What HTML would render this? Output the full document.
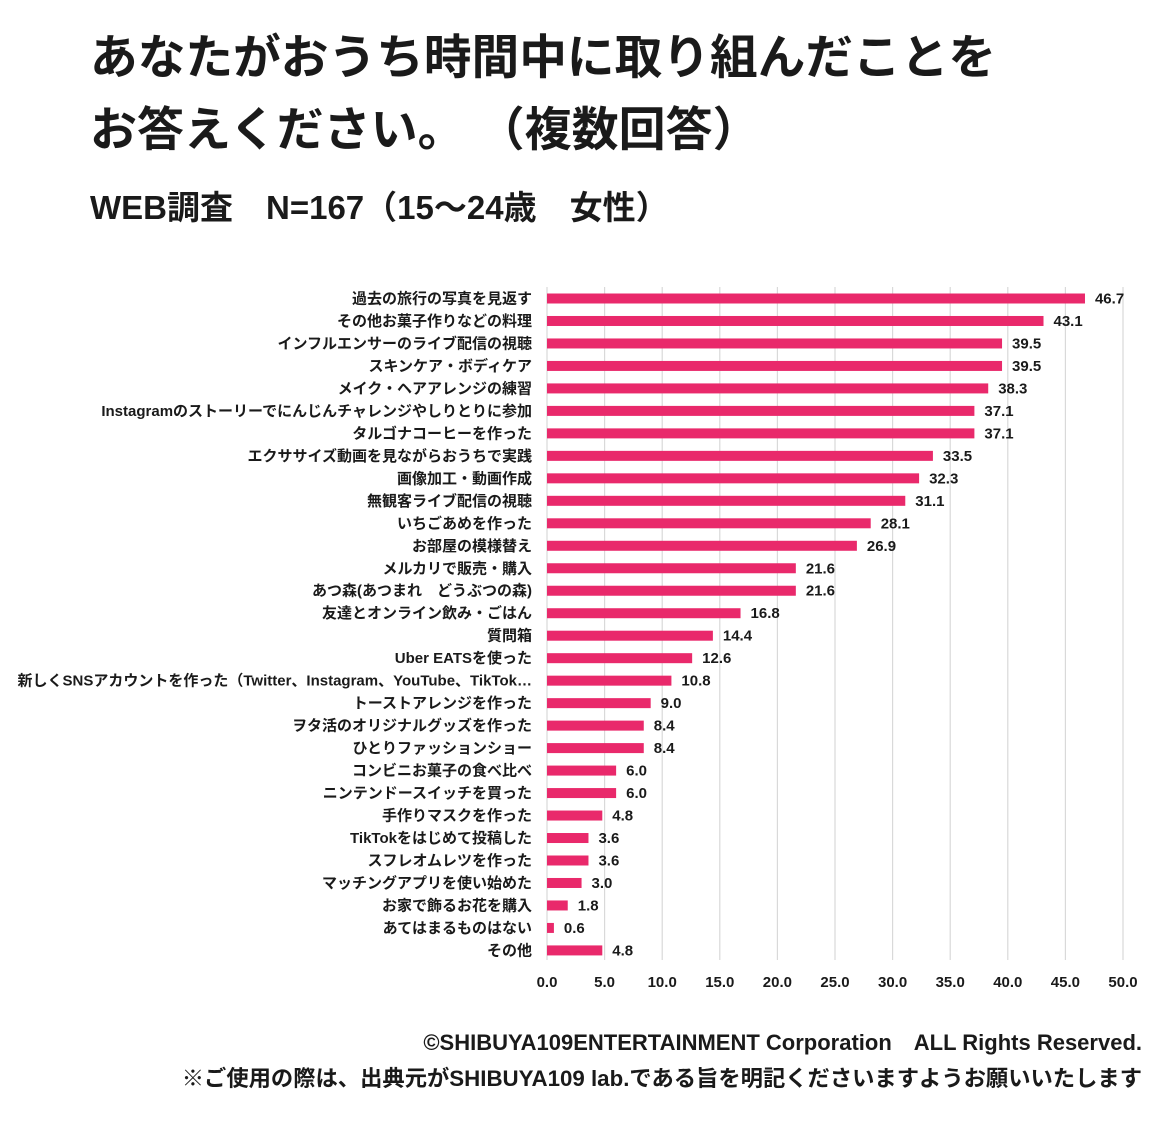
<!DOCTYPE html>
<html><head><meta charset="utf-8"><style>
body{margin:0;background:#fff;width:1160px;height:1133px;overflow:hidden;font-family:"Liberation Sans","Noto Sans CJK JP",sans-serif;color:#1a1a1a}
</style></head><body>
<svg width="1160" height="1133" xmlns="http://www.w3.org/2000/svg" font-family="Liberation Sans, Noto Sans CJK JP, sans-serif">
<text x="90" y="74" font-size="47.7" font-weight="bold" fill="#1a1a1a">あなたがおうち時間中に取り組んだことを</text>
<text x="90" y="146" font-size="47" font-weight="bold" fill="#1a1a1a" xml:space="preserve">お答えください。 （複数回答）</text>
<text x="90" y="219" font-size="33" font-weight="bold" fill="#1a1a1a">WEB調査　N=167（15～24歳　女性）</text>
<g id="grid" stroke="#d9d9d9" stroke-width="1.2"></g>
<g id="bars"></g>
<text x="1142" y="1050" font-size="22" font-weight="bold" text-anchor="end" fill="#1a1a1a">©SHIBUYA109ENTERTAINMENT Corporation　ALL Rights Reserved.</text>
<text x="1142" y="1086" font-size="22.3" font-weight="bold" text-anchor="end" fill="#1a1a1a">※ご使用の際は、出典元がSHIBUYA109 lab.である旨を明記くださいますようお願いいたします</text>
</svg>
<script>
const d=[["過去の旅行の写真を見返す",46.7],["その他お菓子作りなどの料理",43.1],["インフルエンサーのライブ配信の視聴",39.5],["スキンケア・ボディケア",39.5],["メイク・ヘアアレンジの練習",38.3],["Instagramのストーリーでにんじんチャレンジやしりとりに参加",37.1],["タルゴナコーヒーを作った",37.1],["エクササイズ動画を見ながらおうちで実践",33.5],["画像加工・動画作成",32.3],["無観客ライブ配信の視聴",31.1],["いちごあめを作った",28.1],["お部屋の模様替え",26.9],["メルカリで販売・購入",21.6],["あつ森(あつまれ　どうぶつの森)",21.6],["友達とオンライン飲み・ごはん",16.8],["質問箱",14.4],["Uber EATSを使った",12.6],["新しくSNSアカウントを作った（Twitter、Instagram、YouTube、TikTok…",10.8],["トーストアレンジを作った",9.0],["ヲタ活のオリジナルグッズを作った",8.4],["ひとりファッションショー",8.4],["コンビニお菓子の食べ比べ",6.0],["ニンテンドースイッチを買った",6.0],["手作りマスクを作った",4.8],["TikTokをはじめて投稿した",3.6],["スフレオムレツを作った",3.6],["マッチングアプリを使い始めた",3.0],["お家で飾るお花を購入",1.8],["あてはまるものはない",0.6],["その他",4.8]];
const ns="http://www.w3.org/2000/svg",x0=547,k=11.52,y0=298.5,dy=22.48;
const g=document.getElementById("grid"),b=document.getElementById("bars");
function el(p,t,a,txt){const e=document.createElementNS(ns,t);for(const q in a)e.setAttribute(q,a[q]);if(txt!=null)e.textContent=txt;p.appendChild(e);}
for(let i=0;i<=10;i++){const x=x0+i*5*k;el(g,"line",{x1:x,x2:x,y1:287,y2:960});el(b,"text",{x:x,y:987,"font-size":15,"font-weight":"bold","text-anchor":"middle",fill:"#1a1a1a"},(i*5).toFixed(1));}
d.forEach((r,i)=>{const y=y0+i*dy;el(b,"rect",{x:x0,y:y-5,width:r[1]*k,height:10,fill:"#e9296b"});
el(b,"text",{x:532,y:y+5,"font-size":15,"font-weight":"bold","text-anchor":"end",fill:"#1a1a1a"},r[0]);
el(b,"text",{x:x0+r[1]*k+10,y:y+5,"font-size":15,"font-weight":"bold",fill:"#1a1a1a"},r[1].toFixed(1));});
</script>
</body></html>
